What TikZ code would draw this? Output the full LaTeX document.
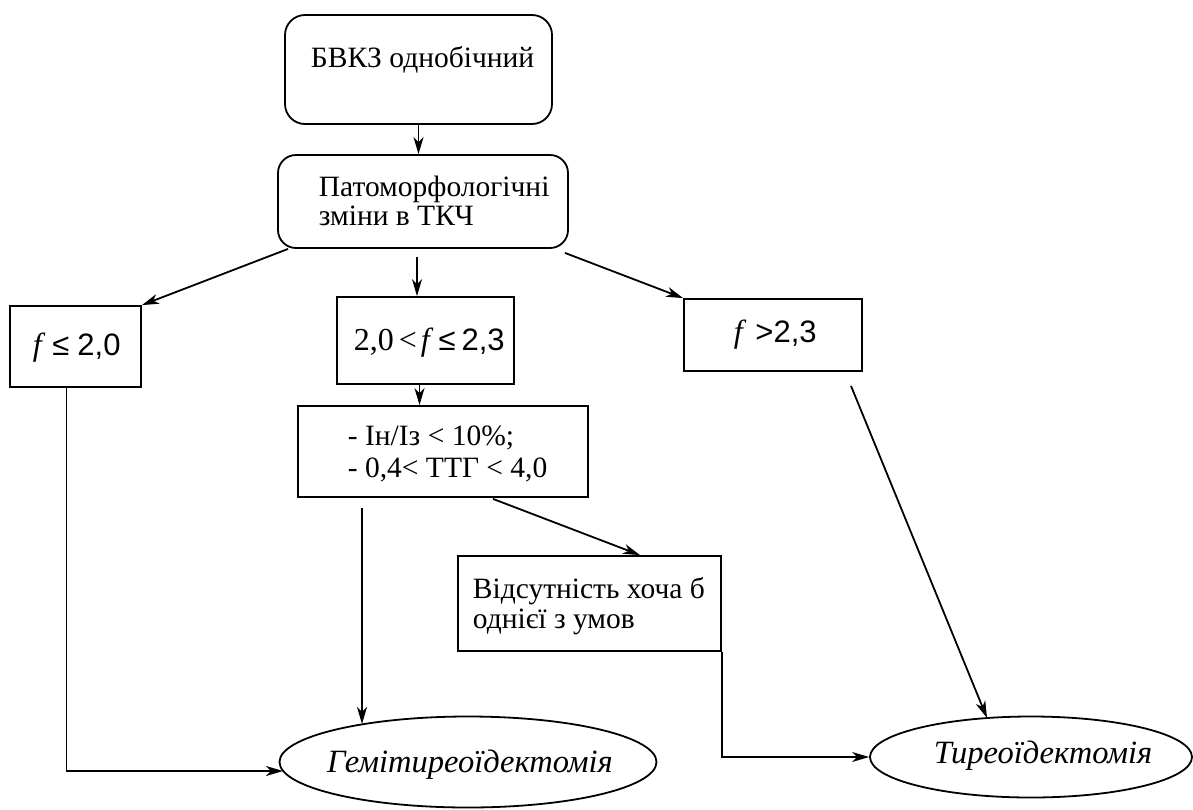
\documentclass[tikz,border=0pt]{standalone}
\usepackage{fontspec}
\setmainfont{Liberation Serif}
\newfontfamily\arialf{Liberation Sans}
\newcommand{\sansnum}{\arialf\fontsize{31}{34}\selectfont}
\newcommand{\bigserif}{\fontsize{32}{35}\selectfont}
\usetikzlibrary{arrows.meta,calc,shapes.geometric}
\begin{document}
\begin{tikzpicture}[x=1pt,y=-1pt, line width=1.8pt,
  arr/.style={-{Stealth[length=17pt,width=10pt,inset=5pt]}},
  rbox/.style={draw, rounded corners=20pt, inner sep=0pt},
  sbox/.style={draw, inner sep=0pt},
  oval/.style={draw, ellipse, inner sep=0pt},
  txt/.style={anchor=base west, inner sep=0pt, font=\fontsize{29.5}{33}\selectfont},
  itxt/.style={anchor=base, inner sep=0pt, font=\fontsize{32.5}{36}\selectfont\itshape},
]
\useasboundingbox (0,0) rectangle (1193,809);
% shapes
\node[rbox, minimum width=267pt, minimum height=109pt] (top) at (418.5,69.5) {};
\node[rbox, rounded corners=18pt, minimum width=290pt, minimum height=93pt] (pat) at (423,201.5) {};
\node[sbox, minimum width=131pt, minimum height=81pt] (b1) at (75.5,346.5) {};
\node[sbox, minimum width=177pt, minimum height=87pt] (b2) at (425.5,340.5) {};
\node[sbox, minimum width=178pt, minimum height=72pt] (b3) at (773,335) {};
\node[sbox, minimum width=290pt, minimum height=91pt] (b4) at (443,451.5) {};
\node[sbox, minimum width=263pt, minimum height=95pt] (b5) at (589.5,603.5) {};
\node[oval, minimum width=377pt, minimum height=91pt] (e1) at (468,762) {};
\node[oval, minimum width=322pt, minimum height=81pt] (e2) at (1031,757) {};
% texts
\node[txt] (t0) at (310,67) {БВКЗ однобічний};
\node[txt] (t1a) at (318,196) {Патоморфологічні};
\node[txt] (t1b) at (318,225) {зміни в ТКЧ};
\node[txt] (t2) at (32,355) {{\bigserif\textit{f}}\kern7pt{\sansnum≤\kern8pt2,0}};
\node[txt] (t3) at (353,350) {{\bigserif 2,0\kern5pt<\kern4pt\textit{f}}\kern5pt{\sansnum≤\kern6pt2,3}};
\node[txt] (t4) at (733,342) {{\bigserif\textit{f}}\kern9pt{\sansnum >2,3}};
\node[txt] (t5a) at (347,445) {- Ін/Із < 10\%;};
\node[txt] (t5b) at (347,477) {- 0,4< ТТГ < 4,0};
\node[txt] (t6a) at (472,598) {Відсутність хоча б};
\node[txt] (t6b) at (472,628) {однієї з умов};
\node[itxt] (t7) at (470,772) {Гемітиреоїдектомія};
\node[itxt] (t8) at (1043,763) {Тиреоїдектомія};
% connectors
\draw[arr] (top.south) -- (top.south |- pat.north);
\draw[arr] ($(pat.south west)+(11,0)$) -- (b1.north east);
\draw[arr] ($(pat.south)+(-6,8)$) -- ($(b2.north)+(-8.5,0)$);
\draw[arr] ($(pat.south east)+(-4,4)$) -- (b3.north west);
\coordinate (c1) at ($(b2.south)+(-6,0)$);
\draw[arr] (c1) -- (c1 |- b4.north);
\draw[arr] ($(b4.south)+(-81,10)$) -- ($(e1.center)+(-106,-38)$);
\draw[arr] ($(b4.south)+(50,1)$) -- ($(b5.north)+(50.5,0)$);
\coordinate (c2) at ($(b1.south)+(-9,0)$);
\draw[arr] (c2) |- ($(e1.center)+(-185,9)$);
\draw[arr] (b5.south east) |- (e2.west);
\draw[arr] ($(b3.south)+(78,14)$) -- ($(e2.center)+(-44,-39)$);
\end{tikzpicture}
\end{document}
